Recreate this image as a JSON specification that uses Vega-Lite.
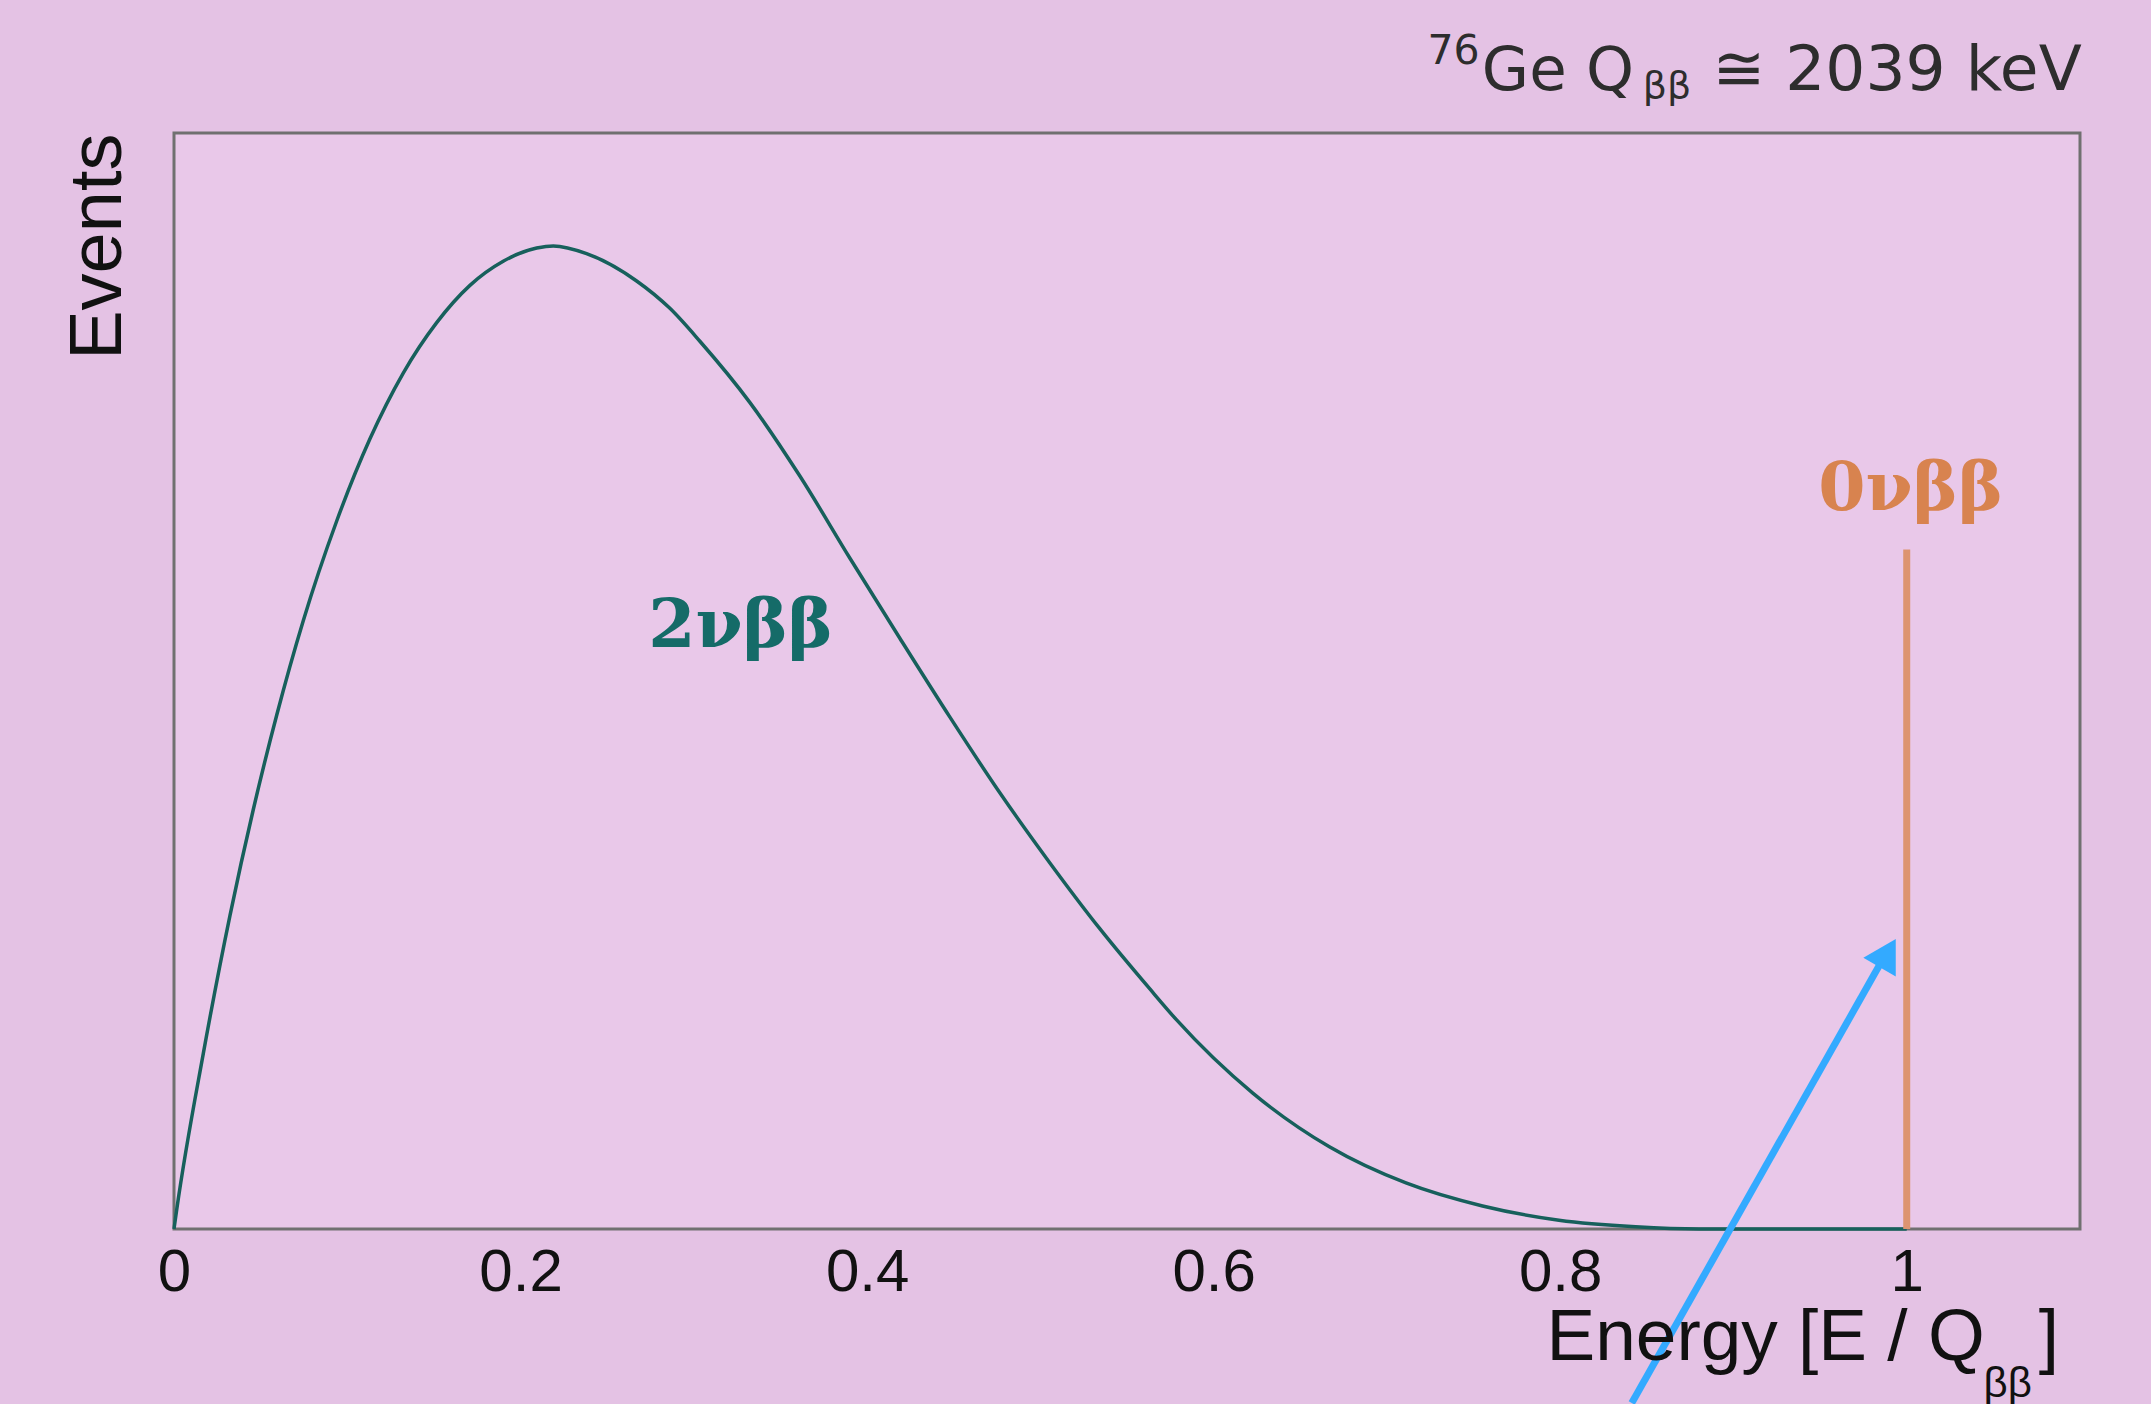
{
  "$schema": "https://vega.github.io/schema/vega-lite/v6.json",
  "width": 1906,
  "height": 1096,
  "autosize": {"type": "none"},
  "padding": {"left": 174, "top": 133, "right": 71, "bottom": 175},
  "background": "#e4c2e4",
  "config": {
    "view": {"fill": "#e9c8e9", "stroke": "#707070", "strokeWidth": 3},
    "font": "Liberation Sans"
  },
  "datasets": {
    "spectrum": [
      {"E": 0, "events": 0},
      {"E": 0.0016, "events": 0.018},
      {"E": 0.0169, "events": 0.16},
      {"E": 0.0323, "events": 0.286},
      {"E": 0.0458, "events": 0.383},
      {"E": 0.0593, "events": 0.469},
      {"E": 0.0746, "events": 0.555},
      {"E": 0.0939, "events": 0.646},
      {"E": 0.1131, "events": 0.721},
      {"E": 0.1323, "events": 0.781},
      {"E": 0.1516, "events": 0.827},
      {"E": 0.1708, "events": 0.861},
      {"E": 0.19, "events": 0.883},
      {"E": 0.2093, "events": 0.895},
      {"E": 0.2189, "events": 0.897},
      {"E": 0.2381, "events": 0.89},
      {"E": 0.267, "events": 0.865},
      {"E": 0.2862, "events": 0.84},
      {"E": 0.3035, "events": 0.81},
      {"E": 0.3324, "events": 0.754},
      {"E": 0.3612, "events": 0.687},
      {"E": 0.3901, "events": 0.612},
      {"E": 0.4189, "events": 0.539},
      {"E": 0.4478, "events": 0.467},
      {"E": 0.4766, "events": 0.398},
      {"E": 0.5055, "events": 0.334},
      {"E": 0.5343, "events": 0.274},
      {"E": 0.5632, "events": 0.219},
      {"E": 0.5785, "events": 0.191},
      {"E": 0.6226, "events": 0.124},
      {"E": 0.6668, "events": 0.075},
      {"E": 0.711, "events": 0.042},
      {"E": 0.7552, "events": 0.021},
      {"E": 0.7993, "events": 0.008},
      {"E": 0.8435, "events": 0.002},
      {"E": 0.88, "events": 0},
      {"E": 1.0, "events": 0}
    ],
    "peak": [{"E": 1.0, "lo": 0, "hi": 0.62}],
    "arrow": [{"x0": 0.8413, "y0": -0.1588, "x1": 0.9865, "y1": 0.247}],
    "arrowhead": [{"x": 0.989, "y": 0.2517}],
    "twonu": [{"x": 0.327, "y": 0.549, "label": "2νββ"}],
    "zeronu": [{"x": 1.0023, "y": 0.674, "label": "0νββ"}],
    "topmain": [{"x": 0.7548, "y": 1.0393, "label": "Ge Q"}],
    "topsup": [{"x": 0.7535, "y": 1.063, "label": "76"}],
    "topsub": [{"x": 0.8477, "y": 1.032, "label": "ββ"}],
    "topend": [{"x": 1.101, "y": 1.0393, "label": "≅ 2039 keV"}],
    "xtitle": [{"x": 1.045, "y": -0.1195, "label": "Energy [E / Q"}],
    "xtitleend": [{"x": 1.0762, "y": -0.1195, "label": "]"}],
    "xtitlesub": [{"x": 1.0583, "y": -0.153, "label": "ββ"}]
  },
  "layer": [
    {
      "data": {"name": "spectrum"},
      "mark": {"type": "line", "color": "#17605c", "strokeWidth": 3.5, "interpolate": "monotone"},
      "encoding": {
        "x": {
          "field": "E", "type": "quantitative",
          "scale": {"domain": [0, 1.1], "nice": false, "zero": false},
          "axis": {
            "values": [0, 0.2, 0.4, 0.6, 0.8, 1],
            "format": "~g",
            "labelFontSize": 60,
            "labelFont": "Liberation Sans",
            "labelColor": "#111111",
            "ticks": false,
            "domain": false,
            "grid": false,
            "labelPadding": 14,
            "labelFlush": false,
            "title": null
          }
        },
        "y": {
          "field": "events", "type": "quantitative",
          "scale": {"domain": [0, 1], "nice": false},
          "axis": {
            "labels": false,
            "ticks": false,
            "domain": false,
            "grid": false,
            "title": "Events",
            "titleFontSize": 74,
            "titleFont": "Liberation Sans",
            "titleFontWeight": "normal",
            "titleColor": "#111111",
            "titleAnchor": "end",
            "titlePadding": 38
          }
        }
      }
    },
    {
      "data": {"name": "peak"},
      "mark": {"type": "rule", "color": "#dd9470", "strokeWidth": 7},
      "encoding": {
        "x": {"field": "E", "type": "quantitative"},
        "y": {"field": "lo", "type": "quantitative"},
        "y2": {"field": "hi"}
      }
    },
    {
      "data": {"name": "arrow"},
      "mark": {"type": "rule", "color": "#33aaff", "strokeWidth": 7},
      "encoding": {
        "x": {"field": "x0", "type": "quantitative"},
        "y": {"field": "y0", "type": "quantitative"},
        "x2": {"field": "x1"},
        "y2": {"field": "y1"}
      }
    },
    {
      "data": {"name": "arrowhead"},
      "mark": {"type": "point", "shape": "triangle-up", "angle": 30, "filled": true, "size": 1400, "color": "#33aaff", "opacity": 1},
      "encoding": {
        "x": {"field": "x", "type": "quantitative"},
        "y": {"field": "y", "type": "quantitative"}
      }
    },
    {
      "data": {"name": "twonu"},
      "mark": {"type": "text", "font": "DejaVu Serif", "fontWeight": "bold", "fontSize": 68, "color": "#156b68", "align": "center", "baseline": "middle"},
      "encoding": {
        "x": {"field": "x", "type": "quantitative"},
        "y": {"field": "y", "type": "quantitative"},
        "text": {"field": "label"}
      }
    },
    {
      "data": {"name": "zeronu"},
      "mark": {"type": "text", "font": "DejaVu Serif", "fontWeight": "bold", "fontSize": 68, "color": "#d8834f", "align": "center", "baseline": "middle"},
      "encoding": {
        "x": {"field": "x", "type": "quantitative"},
        "y": {"field": "y", "type": "quantitative"},
        "text": {"field": "label"}
      }
    },
    {
      "data": {"name": "topmain"},
      "mark": {"type": "text", "font": "DejaVu Sans", "fontSize": 61, "color": "#2d2d2d", "align": "left", "baseline": "alphabetic"},
      "encoding": {
        "x": {"field": "x", "type": "quantitative"},
        "y": {"field": "y", "type": "quantitative"},
        "text": {"field": "label"}
      }
    },
    {
      "data": {"name": "topsup"},
      "mark": {"type": "text", "font": "DejaVu Sans", "fontSize": 41, "color": "#2d2d2d", "align": "right", "baseline": "alphabetic"},
      "encoding": {
        "x": {"field": "x", "type": "quantitative"},
        "y": {"field": "y", "type": "quantitative"},
        "text": {"field": "label"}
      }
    },
    {
      "data": {"name": "topsub"},
      "mark": {"type": "text", "font": "DejaVu Sans", "fontSize": 38, "color": "#2d2d2d", "align": "left", "baseline": "alphabetic"},
      "encoding": {
        "x": {"field": "x", "type": "quantitative"},
        "y": {"field": "y", "type": "quantitative"},
        "text": {"field": "label"}
      }
    },
    {
      "data": {"name": "topend"},
      "mark": {"type": "text", "font": "DejaVu Sans", "fontSize": 63, "color": "#2d2d2d", "align": "right", "baseline": "alphabetic"},
      "encoding": {
        "x": {"field": "x", "type": "quantitative"},
        "y": {"field": "y", "type": "quantitative"},
        "text": {"field": "label"}
      }
    },
    {
      "data": {"name": "xtitle"},
      "mark": {"type": "text", "font": "Liberation Sans", "fontSize": 73, "color": "#111111", "align": "right", "baseline": "alphabetic"},
      "encoding": {
        "x": {"field": "x", "type": "quantitative"},
        "y": {"field": "y", "type": "quantitative"},
        "text": {"field": "label"}
      }
    },
    {
      "data": {"name": "xtitleend"},
      "mark": {"type": "text", "font": "Liberation Sans", "fontSize": 73, "color": "#111111", "align": "left", "baseline": "alphabetic"},
      "encoding": {
        "x": {"field": "x", "type": "quantitative"},
        "y": {"field": "y", "type": "quantitative"},
        "text": {"field": "label"}
      }
    },
    {
      "data": {"name": "xtitlesub"},
      "mark": {"type": "text", "font": "Liberation Sans", "fontSize": 42, "color": "#111111", "align": "center", "baseline": "alphabetic"},
      "encoding": {
        "x": {"field": "x", "type": "quantitative"},
        "y": {"field": "y", "type": "quantitative"},
        "text": {"field": "label"}
      }
    }
  ]
}
